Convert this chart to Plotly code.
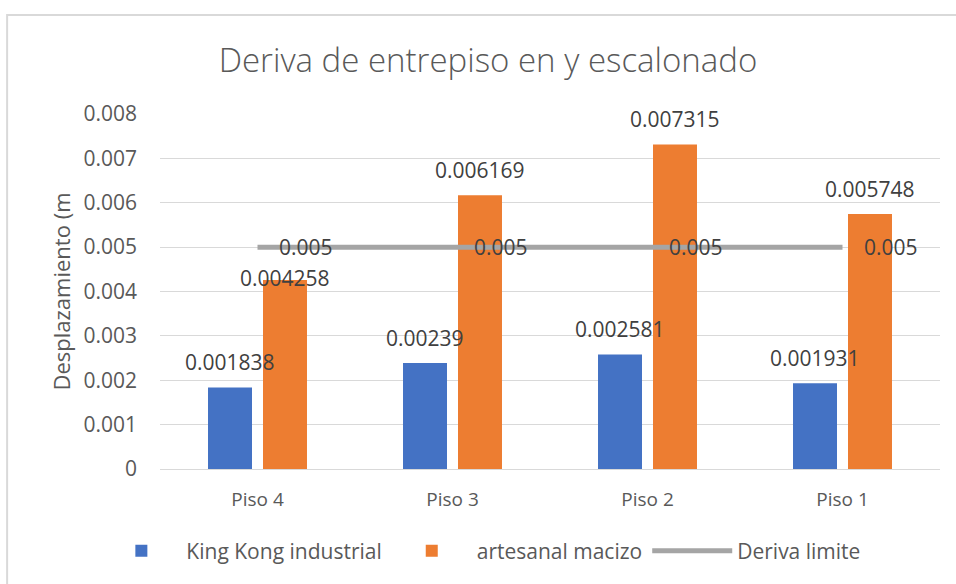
import plotly.graph_objects as go

categories = ["Piso 4", "Piso 3", "Piso 2", "Piso 1"]
king_kong = [0.001838, 0.00239, 0.002581, 0.001931]
artesanal = [0.004258, 0.006169, 0.007315, 0.005748]
deriva_limite = [0.005, 0.005, 0.005, 0.005]
y_ticks = [0, 0.001, 0.002, 0.003, 0.004, 0.005, 0.006, 0.007, 0.008]

FONT = "Open Sans"
TEXT = "#595959"
LABEL = "#404040"
LABEL_SIZE = 21
PX_PER_UNIT = 355 / 0.008  # plot height in px over the y range

fig = go.Figure()

# limit line first so the bars sit on top of it
fig.add_trace(go.Scatter(
    x=categories, y=deriva_limite, mode="lines", name="Deriva limite",
    line=dict(color="#A5A5A5", width=5),
))
fig.add_trace(go.Bar(
    x=categories, y=king_kong, name="King Kong industrial", offsetgroup="kk",
    marker=dict(color="#4472C4", line=dict(width=0)),
))
fig.add_trace(go.Bar(
    x=categories, y=artesanal, name="artesanal macizo", offsetgroup="am",
    marker=dict(color="#ED7D31", line=dict(width=0)),
))

# bar value labels, drawn above every mark
# each bar is shifted by +-27.5 px from its category centre
for vals, dx in ((king_kong, -27.5), (artesanal, 27.5)):
    for c, v, lim in zip(categories, vals, deriva_limite):
        shift = 25
        # pull a label down onto the bar top when it would sit on the limit label
        if abs(v + shift / PX_PER_UNIT - lim) < 12 / PX_PER_UNIT:
            shift = 2
        fig.add_annotation(
            x=c, y=v, text=repr(v), showarrow=False,
            xanchor="center", yanchor="middle", xshift=dx, yshift=shift,
            font=dict(family=FONT, size=LABEL_SIZE, color=LABEL),
        )

# value labels for the limit line, to the right of each point
for c, v in zip(categories, deriva_limite):
    fig.add_annotation(
        x=c, y=v, text=repr(v), showarrow=False,
        xanchor="left", yanchor="middle", xshift=19,
        font=dict(family=FONT, size=LABEL_SIZE, color=LABEL),
    )

# chart frame
fig.add_shape(
    type="rect", xref="paper", yref="paper",
    x0=-0.196, x1=1.2, y0=-0.6, y1=1.279,
    line=dict(color="#D9D9D9", width=2), fillcolor="rgba(0,0,0,0)",
)

fig.update_layout(
    width=956, height=584,
    margin=dict(l=160, r=16, t=114, b=115),
    paper_bgcolor="white", plot_bgcolor="white",
    barmode="group", bargap=0.436, bargroupgap=0.2,
    title=dict(
        text="Deriva de entrepiso en y escalonado",
        x=488 / 956, xref="container", xanchor="center",
        y=1 - 60 / 584, yref="container", yanchor="middle",
        font=dict(family=FONT, size=33, color=TEXT, weight=300),
    ),
    showlegend=True,
    legend=dict(
        orientation="h", x=0.412, xanchor="center",
        y=-0.231, yanchor="middle",
        font=dict(family=FONT, size=21, color=TEXT),
        traceorder="normal", itemwidth=80,
        bgcolor="rgba(0,0,0,0)",
    ),
    xaxis=dict(
        type="category", showgrid=False, showline=False, zeroline=False,
        tickfont=dict(family=FONT, size=19, color=TEXT),
        ticks="", ticklabelstandoff=17,
    ),
    yaxis=dict(
        range=[0, 0.008], tickvals=y_ticks,
        ticktext=[("%g" % t) if t else "0" for t in y_ticks],
        showgrid=True, gridcolor="#D9D9D9", gridwidth=1,
        zeroline=True, zerolinecolor="#D9D9D9", zerolinewidth=1,
        showline=False, ticks="", ticklabelstandoff=22,
        tickfont=dict(family=FONT, size=21, color=TEXT),
        title=dict(text="Desplazamiento (m", standoff=6,
                   font=dict(family=FONT, size=22, color=TEXT)),
    ),
)

# legend order: bars first, then the line
fig.data[0].legendrank = 3
fig.data[1].legendrank = 1
fig.data[2].legendrank = 2

fig.write_html("out.html")
